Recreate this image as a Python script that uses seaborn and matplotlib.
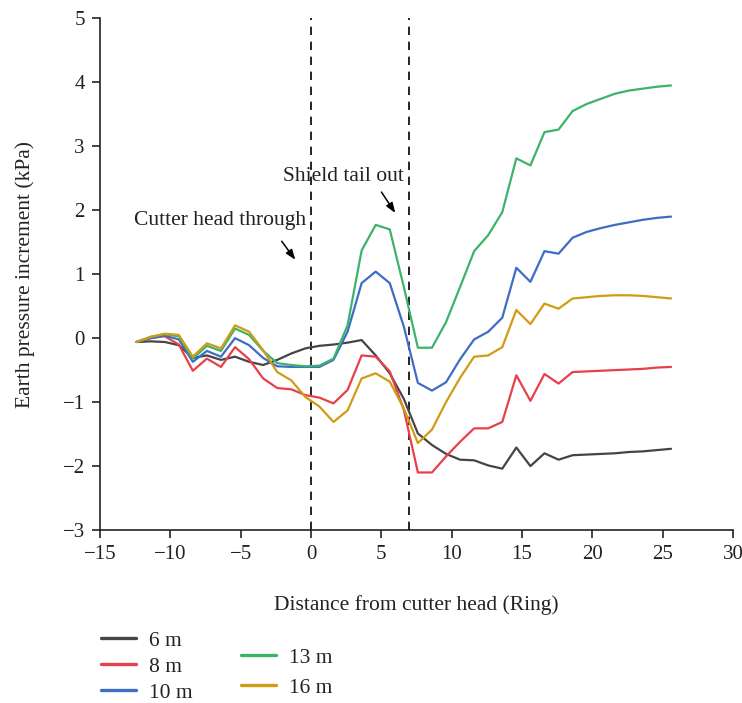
import numpy as np
import pandas as pd
import matplotlib
matplotlib.use("Agg")
import matplotlib.pyplot as plt
import seaborn as sns

# Ring positions relative to the cutter head
ring = [-12.4, -11.4, -10.4, -9.4, -8.4, -7.4, -6.4, -5.4, -4.4, -3.4, -2.4, -1.4, -0.4,
        0.6, 1.6, 2.6, 3.6, 4.6, 5.6, 6.6, 7.6, 8.6, 9.6, 10.6, 11.6, 12.6, 13.6,
        14.6, 15.6, 16.6, 17.6, 18.6, 19.6, 20.6, 21.6, 22.6, 23.6, 24.6, 25.6]

# Earth pressure increment (kPa) at each burial depth
p_6m = [-0.06, -0.05, -0.06, -0.11, -0.31, -0.27, -0.34, -0.29, -0.37, -0.42, -0.34, -0.24, -0.16,
        -0.12, -0.10, -0.07, -0.03, -0.27, -0.55, -0.95, -1.49, -1.67, -1.81, -1.90, -1.91, -1.99, -2.04,
        -1.71, -2.00, -1.80, -1.90, -1.83, -1.82, -1.81, -1.80, -1.78, -1.77, -1.75, -1.73]
p_8m = [-0.06, 0.00, 0.03, -0.10, -0.51, -0.32, -0.45, -0.14, -0.33, -0.63, -0.78, -0.80, -0.89,
        -0.93, -1.02, -0.81, -0.27, -0.29, -0.52, -1.12, -2.10, -2.10, -1.85, -1.62, -1.41, -1.41, -1.31,
        -0.58, -0.98, -0.56, -0.71, -0.53, -0.52, -0.51, -0.50, -0.49, -0.48, -0.46, -0.45]
p_10m = [-0.06, 0.00, 0.04, -0.02, -0.37, -0.20, -0.29, 0.00, -0.11, -0.31, -0.44, -0.45, -0.45,
         -0.45, -0.34, 0.10, 0.86, 1.04, 0.86, 0.18, -0.70, -0.82, -0.69, -0.33, -0.02, 0.10, 0.32,
         1.10, 0.88, 1.36, 1.32, 1.57, 1.66, 1.72, 1.77, 1.81, 1.85, 1.88, 1.90]
p_13m = [-0.06, 0.02, 0.06, 0.03, -0.32, -0.12, -0.20, 0.15, 0.05, -0.20, -0.39, -0.42, -0.44,
         -0.43, -0.32, 0.20, 1.37, 1.77, 1.70, 0.80, -0.15, -0.15, 0.25, 0.80, 1.36, 1.61, 1.97,
         2.81, 2.70, 3.22, 3.26, 3.55, 3.66, 3.74, 3.82, 3.87, 3.90, 3.93, 3.95]
p_16m = [-0.06, 0.02, 0.07, 0.05, -0.29, -0.08, -0.16, 0.20, 0.10, -0.19, -0.53, -0.66, -0.92,
         -1.07, -1.31, -1.13, -0.63, -0.55, -0.68, -1.10, -1.64, -1.43, -1.00, -0.62, -0.29, -0.27, -0.14,
         0.44, 0.22, 0.54, 0.46, 0.62, 0.64, 0.66, 0.67, 0.67, 0.66, 0.64, 0.62]

depth_labels = ["6 m", "8 m", "10 m", "13 m", "16 m"]
series = [p_6m, p_8m, p_10m, p_13m, p_16m]
colors = ["#454545", "#e8404a", "#3f6cc4", "#3db36a", "#d19c14"]

x_ticks = [-15, -10, -5, 0, 5, 10, 15, 20, 25, 30]
y_ticks = [-3, -2, -1, 0, 1, 2, 3, 4, 5]

df = pd.concat(
    [pd.DataFrame({"ring": ring, "value": v, "depth": lab}) for lab, v in zip(depth_labels, series)],
    ignore_index=True,
)

sns.set_style("ticks")
plt.rcParams["font.family"] = ["Liberation Serif", "DejaVu Serif"]
plt.rcParams["axes.unicode_minus"] = True

FS = 15.5
TXT = "#222222"

fig = plt.figure(figsize=(7.42, 7.03), dpi=100)
ax = fig.add_axes([0.1348, 0.246, 0.853, 0.728])

sns.lineplot(data=df, x="ring", y="value", hue="depth", hue_order=depth_labels,
             palette=dict(zip(depth_labels, colors)), linewidth=1.6, ax=ax,
             legend=False, estimator=None, sort=False)

# construction milestones
for xv in (0, 7):
    ax.axvline(xv, color="black", linestyle=(0, (5, 4)), linewidth=1.2, zorder=1)

ax.set_xlim(-15, 30)
ax.set_ylim(-3, 5)
ax.set_xticks(x_ticks)
ax.set_yticks(y_ticks)
ax.set_xticklabels([str(t).replace("-", "\u2212") for t in x_ticks])
ax.set_yticklabels([str(t).replace("-", "\u2212") for t in y_ticks])
ax.tick_params(axis="both", direction="out", length=6, width=1.2, labelsize=15, colors=TXT, pad=5)
for s in ("top", "right"):
    ax.spines[s].set_visible(False)
for s in ("left", "bottom"):
    ax.spines[s].set_linewidth(1.2)
    ax.spines[s].set_color(TXT)

ax.set_xlabel("Distance from cutter head (Ring)", fontsize=FS, labelpad=22, color=TXT)
ax.set_ylabel("Earth pressure increment (kPa)", fontsize=FS, labelpad=20, color=TXT)

ax.text(-12.6, 1.84, "Cutter head through", fontsize=FS, va="center", ha="left", color=TXT)
ax.annotate("", xy=(-1.0, 1.19), xytext=(-2.2, 1.55),
            arrowprops=dict(arrowstyle="-|>,head_length=0.6,head_width=0.22", color="black", lw=1.1))
ax.text(-2.0, 2.52, "Shield tail out", fontsize=FS, va="center", ha="left", color=TXT)
ax.annotate("", xy=(6.1, 1.92), xytext=(4.9, 2.32),
            arrowprops=dict(arrowstyle="-|>,head_length=0.6,head_width=0.22", color="black", lw=1.1))

handles = [plt.Line2D([], [], color=c, lw=2.4) for c in colors]

fig.legend(handles[:3], depth_labels[:3], loc="upper left",
           bbox_to_anchor=(0.124, 0.115), frameon=False, fontsize=FS, labelcolor=TXT,
           handlelength=1.65, handletextpad=0.6, labelspacing=0.27, borderaxespad=0)
fig.legend(handles[3:], depth_labels[3:], loc="upper left",
           bbox_to_anchor=(0.313, 0.091), frameon=False, fontsize=FS, labelcolor=TXT,
           handlelength=1.65, handletextpad=0.6, labelspacing=0.46, borderaxespad=0)

fig.savefig("out.png", dpi=100)
